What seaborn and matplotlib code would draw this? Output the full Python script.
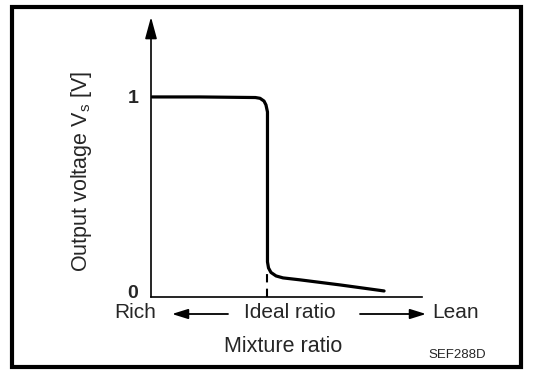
import matplotlib
matplotlib.use("Agg")
import matplotlib.pyplot as plt
import seaborn as sns
import pandas as pd
from matplotlib.patches import Rectangle, FancyArrowPatch

# sensor curve (x: mixture, ideal ratio = 1.0; y: output voltage in V)
mixture = [0.01, 0.42, 0.90, 0.94, 0.974, 0.991, 1.004, 1.004, 1.004, 1.013,
           1.034, 1.078, 1.138, 1.284, 1.629, 2.009]
voltage = [1.0, 1.0, 0.997, 0.993, 0.979, 0.959, 0.923, 0.472, 0.154, 0.123,
           0.10, 0.082, 0.072, 0.062, 0.036, 0.005]
ideal_x = 1.0
ideal_top = 0.10
y_ticks = [0, 1]
y_tick_labels = ["0", "1"]

W, H = 544, 378

sns.set_theme(style="white")
plt.rcParams["font.family"] = ["Liberation Sans", "DejaVu Sans"]

fig = plt.figure(figsize=(W / 100, H / 100), dpi=100)
# axes box in pixels: left 151, right 422, bottom 297, top 17
ax = fig.add_axes([151 / W, (H - 297) / H, (422 - 151) / W, (297 - 17) / H])

df = pd.DataFrame({"mixture": mixture, "voltage": voltage})
sns.lineplot(data=df, x="mixture", y="voltage", sort=False, estimator=None,
             color="black", linewidth=2.3, ax=ax)
ax.plot([ideal_x, ideal_x], [-0.026, ideal_top], color="black",
        linewidth=1.5, linestyle=(0, (4, 3)))

ax.set_xlim(0, 2.336)
ax.set_ylim(-0.026, 1.41)
for side in ["top", "right", "left"]:
    ax.spines[side].set_visible(False)
ax.spines["bottom"].set_color("black")
ax.spines["bottom"].set_linewidth(1.2)
ax.set_xticks([])
ax.set_yticks(y_ticks)
ax.set_yticklabels(y_tick_labels, fontsize=14, fontweight="bold")
ax.tick_params(axis="y", length=0, pad=9)
ax.set_xlabel("")
ax.set_ylabel("")

# y axis with arrow head
ax.annotate("", xy=(0, 1.0), xytext=(0, 0), xycoords="axes fraction",
            arrowprops=dict(arrowstyle="-|>,head_length=1.1,head_width=0.3",
                            color="black", lw=1.2, shrinkA=0, shrinkB=0))


def fy(py):
    return (H - py) / H


fig.text(81 / W, fy(171), "Output voltage V$_\\mathregular{s}$ [V]", fontsize=15.5,
         rotation=90, ha="center", va="center")

# bottom labels
fig.text(135 / W, fy(313), "Rich", fontsize=15, ha="center", va="center")
fig.text(290 / W, fy(313), "Ideal ratio", fontsize=15, ha="center", va="center")
fig.text(456 / W, fy(313), "Lean", fontsize=15, ha="center", va="center")
fig.text(283 / W, fy(347), "Mixture ratio", fontsize=15.5, ha="center", va="center")
fig.text(457 / W, fy(355), "SEF288D", fontsize=9.5, ha="center", va="center")

arrow_kw = dict(arrowstyle="-|>,head_length=0.8,head_width=0.25", color="black",
                lw=1.3, shrinkA=0, shrinkB=0)
fig.add_artist(FancyArrowPatch((228 / W, fy(314)), (172 / W, fy(314)),
                               transform=fig.transFigure, mutation_scale=12, **arrow_kw))
fig.add_artist(FancyArrowPatch((360 / W, fy(314)), (426 / W, fy(314)),
                               transform=fig.transFigure, mutation_scale=12, **arrow_kw))

# outer frame
fig.add_artist(Rectangle((12 / W, fy(367)), (521 - 12) / W, (367 - 7) / H,
                         transform=fig.transFigure, fill=False,
                         edgecolor="black", linewidth=3.0))

fig.savefig("out.png", dpi=100)
